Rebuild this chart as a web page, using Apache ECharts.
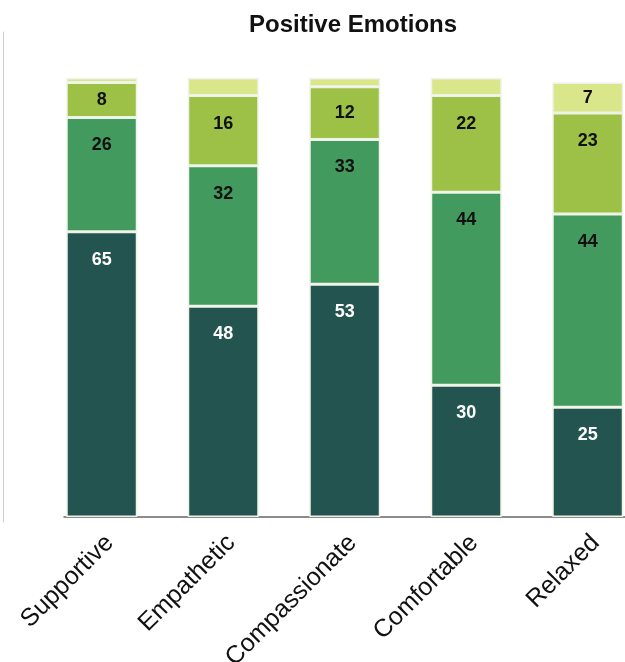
<!DOCTYPE html>
<html>
<head>
<meta charset="utf-8">
<script src="https://cdn.jsdelivr.net/npm/echarts@6/dist/echarts.min.js"></script>
<style>html,body{margin:0;padding:0;background:#fff;}#c{width:625px;height:662px;}</style>
</head>
<body>
<div id="c"></div>
<script>
const categories = ['Supportive', 'Empathetic', 'Compassionate', 'Comfortable', 'Relaxed'];
const level1 = [65, 48, 53, 30, 25];
const level2 = [26, 32, 33, 44, 44];
const level3 = [8, 16, 12, 22, 23];
const level4 = [1, 4, 2, 4, 7];
const seriesColors = ['#23544F', '#439A5F', '#9DC047', '#DAE68A'];
const labelColors = ['#ffffff', '#111111', '#111111', '#111111'];

const chart = echarts.init(document.getElementById('c'), null, {renderer: 'canvas'});

function mkSeries(name, data, idx) {
  return {
    name: name,
    type: 'bar',
    stack: 'total',
    xAxisIndex: 0,
    yAxisIndex: 0,
    barWidth: 71,
    data: data.map(v => ({
      value: v,
      label: {position: v <= 12 ? 'inside' : 'insideTop', distance: 19}
    })),
    itemStyle: {color: seriesColors[idx], borderColor: '#eef3e8', borderWidth: 1.5},
    label: {
      show: true,
      color: labelColors[idx],
      fontFamily: 'Liberation Sans, Arial, sans-serif',
      fontWeight: 'bold',
      fontSize: 18,
      formatter: p => (p.value >= 5 ? String(p.value) : '')
    }
  };
}

chart.setOption({
  animation: false,
  title: {
    text: 'Positive Emotions',
    left: 244,
    top: 8,
    textStyle: {fontFamily: 'Liberation Sans, Arial, sans-serif', fontWeight: 'bold', fontSize: 24, color: '#111'}
  },
  grid: [
    {left: 41, width: 607.5, top: 78, bottom: 145, containLabel: false, outerBoundsMode: 'none'},
    {left: 3, top: 32, bottom: 140, width: 10, containLabel: false, outerBoundsMode: 'none'},
    {left: 64, right: 0, top: 78, bottom: 145, containLabel: false, outerBoundsMode: 'none'},
    {left: 49, width: 607.5, top: 78, bottom: 145, containLabel: false, outerBoundsMode: 'none'}
  ],
  xAxis: [
    {
      type: 'category', gridIndex: 0, data: categories,
      axisLine: {show: false}, axisTick: {show: false}, axisLabel: {show: false}
    },
    {type: 'value', gridIndex: 1, show: false},
    {
      type: 'value', gridIndex: 2, min: 0, max: 1,
      axisLine: {show: true, onZero: false, lineStyle: {color: '#666', width: 1.5}},
      axisTick: {show: false}, axisLabel: {show: false}, splitLine: {show: false}
    },
    {
      type: 'category', gridIndex: 3, data: categories,
      axisLine: {show: false}, axisTick: {show: false},
      axisLabel: {rotate: 45, margin: 22, fontSize: 25, color: '#111', fontFamily: 'Liberation Sans, Arial, sans-serif'}
    }
  ],
  yAxis: [
    {type: 'value', gridIndex: 0, min: 0, max: 100, show: false},
    {
      type: 'value', gridIndex: 1, min: 0, max: 1,
      axisLine: {show: true, lineStyle: {color: '#cccccc', width: 1}},
      axisTick: {show: false}, axisLabel: {show: false}, splitLine: {show: false}
    },
    {type: 'value', gridIndex: 2, show: false},
    {type: 'value', gridIndex: 3, show: false}
  ],
  series: [
    mkSeries('L1', level1, 0),
    mkSeries('L2', level2, 1),
    mkSeries('L3', level3, 2),
    mkSeries('L4', level4, 3)
  ]
});
</script>
</body>
</html>
